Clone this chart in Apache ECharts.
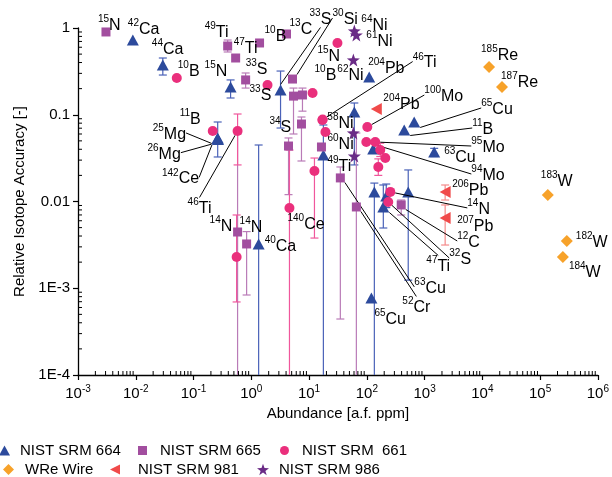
<!DOCTYPE html>
<html><head><meta charset="utf-8">
<script src="https://cdn.jsdelivr.net/npm/echarts@6/dist/echarts.min.js"></script>
<style>html,body{margin:0;padding:0;background:#fff}#c{width:612px;height:477px}</style>
</head><body><div id="c"></div>
<script>
// ---------- axis ticks ----------
const xRange = [1e-3, 1e6];
const yRange = [1e-4, 1];
const yTickValues = [1e-4, 1e-3, 1e-2, 1e-1, 1];
const yTickLabels = ['1E-4', '1E-3', '0.01', '0.1', '1'];

// ---------- NIST SRM 664 (blue triangles) ----------
const s664Iso = ['42Ca','44Ca','15N','25Mg','26Mg','142Ce','33S','40Ca','49Ti','','204Pb','65Cu','11B','63Cu','','','','47Ti','','65Cu'];
const s664X   = [0.0089,0.0294,0.438,0.262,0.26,0.265,3.21,1.34,17.7,60.8,110,661,444,1466,129,135,217,193,521,120];
const s664Y   = [0.727,0.374,0.209,0.054,0.053,0.052,0.193,0.00324,0.0344,0.1076,0.272,0.0825,0.0667,0.0372,0.0403,0.0129,0.01157,0.00865,0.0129,0.000772];
const s664Lo  = [null,0.287,0.156,0.0326,null,null,0.0703,1e-5,1e-5,0.0264,null,null,null,0.033,null,1e-5,0.0085,0.00495,0.00124,null];
const s664Hi  = [null,0.451,0.252,0.0825,null,null,0.319,0.0448,0.0762,0.1366,null,null,null,0.041,null,0.0163,0.0159,0.0155,0.0231,null];

// ---------- NIST SRM 665 (purple squares) ----------
const s665Iso = ['15N','49Ti','47Ti','10B','13C','33S','30Si','','','','34S','60Ni','14N','14N','63Cu','52Cr','12C'];
const s665X   = [0.00305,0.39,0.536,1.39,4.07,0.798,5.17,5.38,7.69,4.41,7.39,16.4,0.579,0.83,34.8,65.9,394];
const s665Y   = [0.9,0.62,0.451,0.672,0.853,0.252,0.258,0.164,0.169,0.0436,0.0782,0.0425,0.00445,0.00324,0.0187,0.00865,0.00912];
const s665Lo  = [null,0.529,null,null,null,0.203,null,0.06,0.11,0.012,0.0293,null,1e-5,0.000836,0.000442,1e-5,0.00699];
const s665Hi  = [null,0.727,null,null,null,0.303,null,0.203,0.203,0.054,0.0942,null,0.06,0.0045,0.025,0.0616,0.0104];

// ---------- NIST SRM 661 (pink circles) ----------
const s661Iso = ['10B','11B','46Ti','','33S','10B','15N','140Ce','','58Ni','46Ti','','100Mo','94Mo','95Mo','','','','14N','32S'];
const s661X   = [0.0513,0.215,0.579,0.557,1.91,11.5,31,4.58,12.4,17,17.2,19.2,102,98,140,171,209,158,255,235];
const s661Y   = [0.265,0.065,0.065,0.00229,0.22,0.178,0.672,0.0084,0.0225,0.087,0.088,0.0633,0.0722,0.0485,0.0485,0.0392,0.0317,0.025,0.0129,0.00987];
const s661Lo  = [null,null,0.0264,0.000695,null,null,null,1e-5,0.00379,null,null,null,null,null,null,0.033,null,0.02,null,null];
const s661Hi  = [null,null,0.102,0.00699,null,null,null,0.0392,0.0317,null,null,null,null,null,null,0.047,null,0.031,null,null];

// ---------- WRe Wire (orange diamonds) ----------
const wreIso = ['185Re','187Re','183W','182W','184W'];
const wreX   = [13060,21900,136000,290000,248000];
const wreY   = [0.355,0.209,0.0119,0.0035,0.00229];

// ---------- NIST SRM 981 (red triangles) ----------
const s981Iso = ['204Pb','206Pb','207Pb'];
const s981X   = [146,2270,2270];
const s981Y   = [0.1165,0.0129,0.00645];
const s981Lo  = [null,0.0104,0.00315];
const s981Hi  = [null,0.0155,0.00912];

// ---------- NIST SRM 986 (purple stars) ----------
const s986Iso = ['64Ni','61Ni','62Ni','',''];
const s986X   = [60.8,65.9,58.5,58.5,60.8];
const s986Y   = [0.923,0.83,0.428,0.0616,0.0334];

// ---------- label placement (pixel offsets from marker: dx, dy, leader line) ----------
const off664 = [[-5,-12],[-11,-17],[-26,-17],[-65,-5,1],[-70,14,1],[-56,38,1],[29,-72,1],[6,1],[4,10],null,[-1,-10],[67,-14,1],[68,-2,1],[10,4],null,null,null,[43,58,1],null,[3,20]];
const off665 = [[-8,-8],[-23,-15],[-2,-11],[5,-8],[3,-6],[0,-12],[40,-61,1],null,null,null,[-32,2],[6,-4],[-28,-7],[-7,-18],[74,109,1],[46,99,1],[56,36,1]];
const off661 = [[1,-8],[-33,-13],[-50,76,1],null,[-18,9],[2,-19],[-20,12],[-2,15],null,[5,2],[90,-58,1],null,[57,-32,1],[105,32,1],[96,4,1],null,null,null,[77,16,1],[61,56,1]];
const offWre = [[-8,-13],[-1,-6],[-7,-15],[9,0],[6,14]];
const off981 = [[7,-6],[7,-3],[12,7]];
const off986 = [[7,-7],[10,5],[-16,14],null,null];

const FONT = "'Liberation Sans', Arial, Helvetica, sans-serif";
const C = {b:'#2c4a9c', p:'#a24e9f', k:'#ea2f7c', o:'#f7a22a', r:'#f04a4a', s:'#6a2b86'};
const triLeft = 'path://M0,5L10,0L10,10Z';
const star = 'path://M5,0L6.18,3.38L9.76,3.45L6.9,5.62L7.94,9.05L5,7L2.06,9.05L3.1,5.62L0.24,3.45L3.82,3.38Z';

function items(xs, ys, isos, offs) {
  return xs.map((x, i) => {
    const it = { value: [x, ys[i]], iso: isos[i] || '' };
    if (!isos[i]) it.label = { show: false };
    if (offs[i] && offs[i][2]) it.labelLine = { show: true };
    return it;
  });
}
function errItems(xs, lo, hi) {
  const out = [];
  xs.forEach((x, i) => { if (lo[i] != null) out.push([x, lo[i], hi[i]]); });
  return out;
}
const rich = {
  s: { fontSize: 10, lineHeight: 10, verticalAlign: 'top', fontFamily: FONT, color: '#000' },
  e: { fontSize: 16, lineHeight: 19, verticalAlign: 'bottom', fontFamily: FONT, color: '#000' }
};
function labelFmt(p) {
  const m = /^(\d+)(.+)$/.exec(p.data.iso || '');
  return m ? '{s|' + m[1] + '}{e|' + m[2] + '}' : '';
}
function scatter(name, data, offs, symbol, size, color, z) {
  return {
    name, type: 'scatter', data, symbol, symbolSize: size, z,
    itemStyle: { color, opacity: 1 },
    label: { show: true, formatter: labelFmt, rich, position: 'right' },
    labelLine: { show: false, length2: 0, lineStyle: { color: '#000', width: 1 } },
    labelLayout: (p) => {
      const o = offs[p.dataIndex];
      if (!o) return {};
      return { x: p.rect.x + p.rect.width / 2 + o[0], y: p.rect.y + p.rect.height / 2 + o[1], align: 'left', verticalAlign: 'middle' };
    },
    emphasis: { disabled: true }, animation: false
  };
}
function errSeries(name, data, color) {
  return {
    name, type: 'custom', data, z: 1, clip: true, animation: false, silent: true,
    encode: { x: 0, y: [1, 2] },
    renderItem: (params, api) => {
      const x = api.value(0);
      const a = api.coord([x, api.value(2)]);
      const b = api.coord([x, api.value(1)]);
      const w = 4, st = { stroke: color, lineWidth: 1.2 };
      return { type: 'group', children: [
        { type: 'line', shape: { x1: a[0], y1: a[1], x2: b[0], y2: b[1] }, style: st },
        { type: 'line', shape: { x1: a[0] - w, y1: a[1], x2: a[0] + w, y2: a[1] }, style: st },
        { type: 'line', shape: { x1: b[0] - w, y1: b[1], x2: b[0] + w, y2: b[1] }, style: st }
      ]};
    }
  };
}
// minor ticks of the log axes (2..9 within each decade), drawn through the axis scales
// each item: [tick value, tick value, kind] ; kind 0 = x-axis tick, 1 = y-axis tick
const minorData = [];
for (let d = -3; d < 6; d++) for (let k = 2; k < 10; k++) minorData.push([k * Math.pow(10, d), 0.5, 0]);
for (let d = -4; d < 0; d++) for (let k = 2; k < 10; k++) minorData.push([1, k * Math.pow(10, d), 1]);
const minorSeries = {
  name: 'minorTicks', type: 'custom', data: minorData, z: 20, clip: false, animation: false, silent: true,
  encode: { x: 0, y: 1 },
  renderItem: (params, api) => {
    const kind = api.value(2);
    const cs = params.coordSys;
    if (kind === 0) {
      const px = api.coord([api.value(0), 0.5])[0];
      const yb = cs.y + cs.height;
      return { type: 'line', shape: { x1: px, y1: yb, x2: px, y2: yb - 4 }, style: { stroke: '#000', lineWidth: 1 } };
    }
    const py = api.coord([1, api.value(1)])[1];
    return { type: 'line', shape: { x1: cs.x, y1: py, x2: cs.x + 4, y2: py }, style: { stroke: '#000', lineWidth: 1 } };
  }
};

function xLab(v) {
  const e = Math.round(Math.log10(v));
  return '{b|10}{s|' + e + '}';
}
function yLab(v) {
  const e = Math.log10(v);
  let best = 0;
  yTickValues.forEach((t, i) => { if (Math.abs(Math.log10(t) - e) < Math.abs(Math.log10(yTickValues[best]) - e)) best = i; });
  return yTickLabels[best];
}
const axisBase = { axisLine: { show: true, onZero: false, lineStyle: { color: '#000', width: 1.3 } }, splitLine: { show: false } };

function leg(name, icon, left, top, w, h, pad) {
  return { data: [{ name, icon }], left, top, itemWidth: w, itemHeight: h, padding: 0, selectedMode: false,
    textStyle: { fontFamily: FONT, fontSize: 15, color: '#000', padding: [0, 0, 0, pad] } };
}

const chart = echarts.init(document.getElementById('c'), null, { renderer: 'canvas' });
chart.setOption({
  backgroundColor: '#fff', animation: false,
  textStyle: { fontFamily: FONT },
  grid: { left: 78, right: 13, top: 28, bottom: 102, containLabel: false },
  xAxis: Object.assign({}, axisBase, { type: 'log', logBase: 10, min: xRange[0], max: xRange[1], splitNumber: 9, position: 'bottom',
      name: 'Abundance [a.f. ppm]', nameLocation: 'middle', nameGap: 29,
      nameTextStyle: { fontFamily: FONT, fontSize: 15, color: '#000' },
      axisTick: { show: true, inside: false, length: 5, lineStyle: { color: '#000', width: 1.2 } },
      axisLabel: { formatter: xLab, margin: 9, rich: { b: { fontSize: 15, fontFamily: FONT, color: '#000', lineHeight: 17, verticalAlign: 'bottom' }, s: { fontSize: 10, fontFamily: FONT, color: '#000', lineHeight: 10, verticalAlign: 'top' } } } }),
  yAxis: Object.assign({}, axisBase, { type: 'log', logBase: 10, min: yRange[0], max: yRange[1], splitNumber: 4, position: 'left',
      name: 'Relative Isotope Accuracy [-]', nameLocation: 'middle', nameGap: 48,
      nameTextStyle: { fontFamily: FONT, fontSize: 15, color: '#000' },
      axisTick: { show: true, inside: false, length: 5, lineStyle: { color: '#000', width: 1.2 } },
      axisLabel: { formatter: yLab, margin: 8, fontSize: 15, fontFamily: FONT, color: '#000' } }),
  legend: [
    leg('NIST SRM 664', 'triangle', -1, 443, 11, 10, 5),
    leg('NIST SRM 665', 'rect', 138, 443, 9, 9, 8),
    leg('NIST SRM  661', 'circle', 280, 443, 9, 9, 8),
    leg('WRe Wire', 'diamond', 3, 462, 11, 11, 6),
    leg('NIST SRM 981', triLeft, 110, 462, 10, 11, 13),
    leg('NIST SRM 986', star, 257, 462, 12, 12, 5)
  ],
  series: [
    errSeries('e664', errItems(s664X, s664Lo, s664Hi), '#4a62b8'),
    errSeries('e665', errItems(s665X, s665Lo, s665Hi), '#b97bb7'),
    errSeries('e661', errItems(s661X, s661Lo, s661Hi), '#f0579c'),
    errSeries('e981', errItems(s981X, s981Lo, s981Hi), '#f48a8a'),
    scatter('NIST SRM 664', items(s664X, s664Y, s664Iso, off664), off664, 'triangle', [12, 11], C.b, 3),
    scatter('NIST SRM 665', items(s665X, s665Y, s665Iso, off665), off665, 'rect', 9, C.p, 4),
    scatter('NIST SRM  661', items(s661X, s661Y, s661Iso, off661), off661, 'circle', 10, C.k, 5),
    scatter('WRe Wire', items(wreX, wreY, wreIso, offWre), offWre, 'diamond', [12, 12], C.o, 6),
    scatter('NIST SRM 981', items(s981X, s981Y, s981Iso, off981), off981, triLeft, [11, 12], C.r, 7),
    scatter('NIST SRM 986', items(s986X, s986Y, s986Iso, off986), off986, star, 13, C.s, 8),
    minorSeries
  ]
});
</script></body></html>
